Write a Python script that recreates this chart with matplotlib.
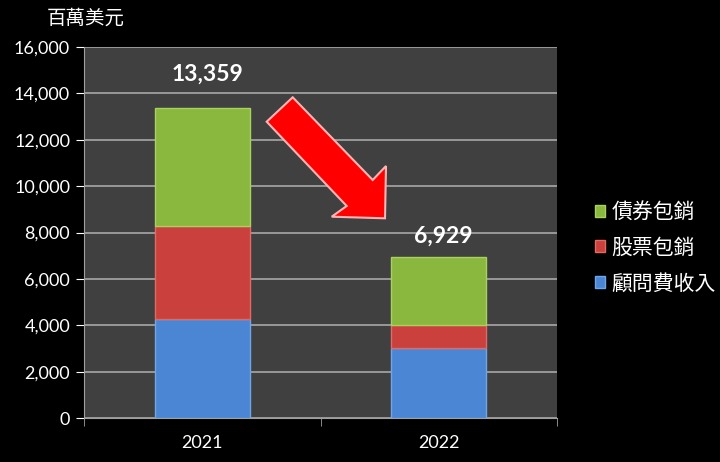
import matplotlib.pyplot as plt
from matplotlib.patches import Polygon

years = ['2021', '2022']
advisory = [4270, 3000]      # 顧問費收入
equity = [4010, 1000]        # 股票包銷
debt = [5079, 2929]          # 債券包銷
totals = [13359, 6929]
label_gap = [1000, 450]

plt.rcParams['font.family'] = ['Lato', 'Noto Sans CJK TC', 'DejaVu Sans']
cjk = ['Noto Sans CJK TC', 'DejaVu Sans']

fig = plt.figure(figsize=(7.2, 4.62), dpi=100, facecolor='black')
ax = fig.add_axes([0.1167, 0.0952, 0.6569, 0.8031])
ax.set_facecolor('#404040')

x = list(range(len(years)))
w = 0.4
b1 = ax.bar(x, advisory, w, color='#4a86d4', edgecolor='#6fa6ea', linewidth=1, label='顧問費收入', zorder=3)
bottom2 = advisory
b2 = ax.bar(x, equity, w, bottom=bottom2, color='#c9403c', edgecolor='#e06a64', linewidth=1, label='股票包銷', zorder=3)
bottom3 = [a + e for a, e in zip(advisory, equity)]
b3 = ax.bar(x, debt, w, bottom=bottom3, color='#8ab83e', edgecolor='#a9d15e', linewidth=1, label='債券包銷', zorder=3)

for xi, t, g in zip(x, totals, label_gap):
    ax.text(xi + 0.02, t + g, f'{t:,}', ha='center', va='bottom', color='white',
            fontsize=16.5, fontweight='bold')

ax.set_xlim(-0.5, 1.5)
ax.set_ylim(0, 16000)
ax.set_yticks(range(0, 16001, 2000))
ax.set_yticklabels([f'{v:,}' for v in range(0, 16001, 2000)])
ax.set_xticks(x)
ax.set_xticklabels(years)
ax.set_xticks([-0.5, 0.5, 1.5], minor=True)
ax.tick_params(axis='x', which='major', length=0, pad=12)
ax.tick_params(axis='x', which='minor', length=6, color='#a0a0a0', direction='out')
ax.tick_params(axis='y', length=6, color='#a0a0a0', direction='out', pad=4)
ax.tick_params(colors='white', labelsize=13)
ax.grid(axis='y', color='#a8a8a8', linewidth=1.2, zorder=0)
for s in ['top', 'right']:
    ax.spines[s].set_visible(False)
ax.spines['left'].set_color('#a0a0a0')
ax.spines['bottom'].set_color('#a0a0a0')

fig.text(0.065, 0.96, '百萬美元', color='white', fontsize=14, family=cjk, va='center')

leg = ax.legend(handles=[b3, b2, b1], loc='upper left', bbox_to_anchor=(1.04, 0.635),
                frameon=False, prop={'family': cjk, 'size': 15}, labelcolor='white',
                handlelength=0.5, handleheight=0.5, handletextpad=0.3, labelspacing=0.65)

# red arrow pointing down
pts = [(266.7, 121.7), (292.7, 97.3), (372.7, 180), (386, 166), (385, 218.3),
       (331.7, 216.7), (346.7, 206)]
fpts = [(px / 720, 1 - py / 462) for px, py in pts]
fig.patches.append(Polygon(fpts, closed=True, transform=fig.transFigure,
                           facecolor='#ff0000', edgecolor='#ffb4b4', linewidth=1.5, zorder=5))

fig.savefig('out.png', dpi=100, facecolor='black')
